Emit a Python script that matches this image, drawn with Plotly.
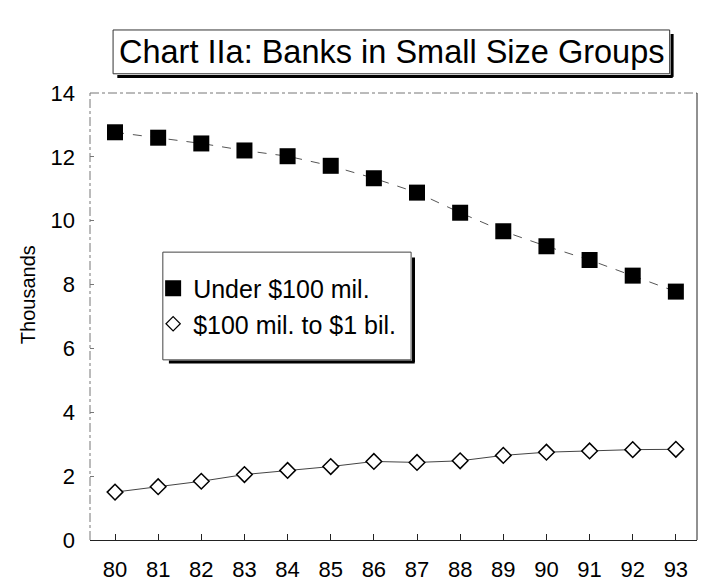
import plotly.graph_objects as go

# years (19xx) and bank counts in thousands
years = [80, 81, 82, 83, 84, 85, 86, 87, 88, 89, 90, 91, 92, 93]
under_100m = [12.77, 12.60, 12.42, 12.20, 12.02, 11.72, 11.33, 10.88, 10.25, 9.67, 9.20, 8.77, 8.28, 7.78]
mid_100m_1b = [1.50, 1.67, 1.84, 2.05, 2.18, 2.30, 2.46, 2.43, 2.48, 2.65, 2.75, 2.79, 2.83, 2.84]

name_small = "Under $100 mil."
name_mid = "$100 mil. to $1 bil."

FONT = "Liberation Sans, Arial, sans-serif"

fig = go.Figure()

# data traces (lines + markers), legend drawn by marker-only dummies below
fig.add_trace(go.Scatter(
    x=years, y=under_100m, mode="lines+markers", showlegend=False,
    line=dict(color="#555555", width=1, dash="dash"),
    marker=dict(symbol="square", size=16, color="black"),
))
fig.add_trace(go.Scatter(
    x=years, y=mid_100m_1b, mode="lines+markers", showlegend=False,
    line=dict(color="#444444", width=1),
    marker=dict(symbol="diamond", size=12, color="white",
                line=dict(color="black", width=1.5)),
))

# legend entries showing only the marker
fig.add_trace(go.Scatter(
    x=[None], y=[None], mode="markers", name=name_small,
    marker=dict(symbol="square", size=16, color="black"),
))
fig.add_trace(go.Scatter(
    x=[None], y=[None], mode="markers", name=name_mid,
    marker=dict(symbol="diamond", size=11, color="white",
                line=dict(color="black", width=1.2)),
))

# plot frame: dashed grey left/top, solid dark right
fig.add_shape(type="line", xref="paper", yref="paper", x0=0, x1=0, y0=0, y1=1,
              line=dict(color="#777777", width=1, dash="dashdot"))
fig.add_shape(type="line", xref="paper", yref="paper", x0=0, x1=1, y0=1, y1=1,
              line=dict(color="#777777", width=1, dash="dashdot"))
fig.add_shape(type="line", xref="paper", yref="paper", x0=1, x1=1, y0=0, y1=1,
              line=dict(color="#222222", width=1))

# title box with drop shadow
fig.add_shape(type="rect", xref="paper", yref="paper",
              x0=0.038, x1=0.955, y0=1.043, y1=1.141,
              line=dict(color="#333333", width=1), fillcolor="white")
fig.add_shape(type="line", xref="paper", yref="paper",
              x0=0.959, x1=0.959, y0=1.036, y1=1.132,
              line=dict(color="black", width=3))
fig.add_shape(type="line", xref="paper", yref="paper",
              x0=0.045, x1=0.960, y0=1.037, y1=1.037,
              line=dict(color="black", width=3))
fig.add_annotation(
    x=0.497, y=1.092, xref="paper", yref="paper",
    text="Chart IIa: Banks in Small Size Groups", showarrow=False,
    font=dict(family=FONT, size=32.5, color="black"),
    xanchor="center", yanchor="middle",
)

# legend box with drop shadow
fig.add_shape(type="rect", xref="paper", yref="paper",
              x0=0.120, x1=0.529, y0=0.403, y1=0.644,
              line=dict(color="#444444", width=1), fillcolor="white", layer="below")
fig.add_shape(type="line", xref="paper", yref="paper",
              x0=0.533, x1=0.533, y0=0.398, y1=0.632,
              line=dict(color="black", width=3))
fig.add_shape(type="line", xref="paper", yref="paper",
              x0=0.130, x1=0.535, y0=0.398, y1=0.398,
              line=dict(color="black", width=3))

# y axis title
fig.add_annotation(
    x=-0.102, y=0.548, xref="paper", yref="paper",
    text="Thousands", textangle=-90, showarrow=False,
    font=dict(family=FONT, size=20, color="black"),
    xanchor="center", yanchor="middle",
)

fig.update_layout(
    width=720, height=587,
    margin=dict(l=82, r=31, t=85, b=55),
    paper_bgcolor="white", plot_bgcolor="white",
    font=dict(family=FONT, color="black"),
    showlegend=True,
    legend=dict(
        x=0.104, y=0.614, xanchor="left", yanchor="top",
        bgcolor="rgba(0,0,0,0)", borderwidth=0,
        font=dict(family=FONT, size=25, color="black"),
        itemwidth=30, tracegroupgap=0,
    ),
)

fig.update_xaxes(
    range=[79.42, 93.49], tickmode="array", tickvals=years,
    ticktext=[str(y) for y in years],
    showgrid=False, zeroline=False,
    showline=True, linecolor="#222222", linewidth=1,
    ticks="inside", ticklen=6, tickcolor="#222222",
    ticklabelstandoff=10,
    tickfont=dict(family=FONT, size=22, color="black"),
)
fig.update_yaxes(
    range=[0, 14], tickvals=[0, 2, 4, 6, 8, 10, 12, 14],
    showgrid=False, zeroline=False, showline=False,
    ticks="inside", ticklen=4, tickcolor="#777777",
    ticklabelstandoff=14,
    tickfont=dict(family=FONT, size=22, color="black"),
)

fig.write_html("out.html")
